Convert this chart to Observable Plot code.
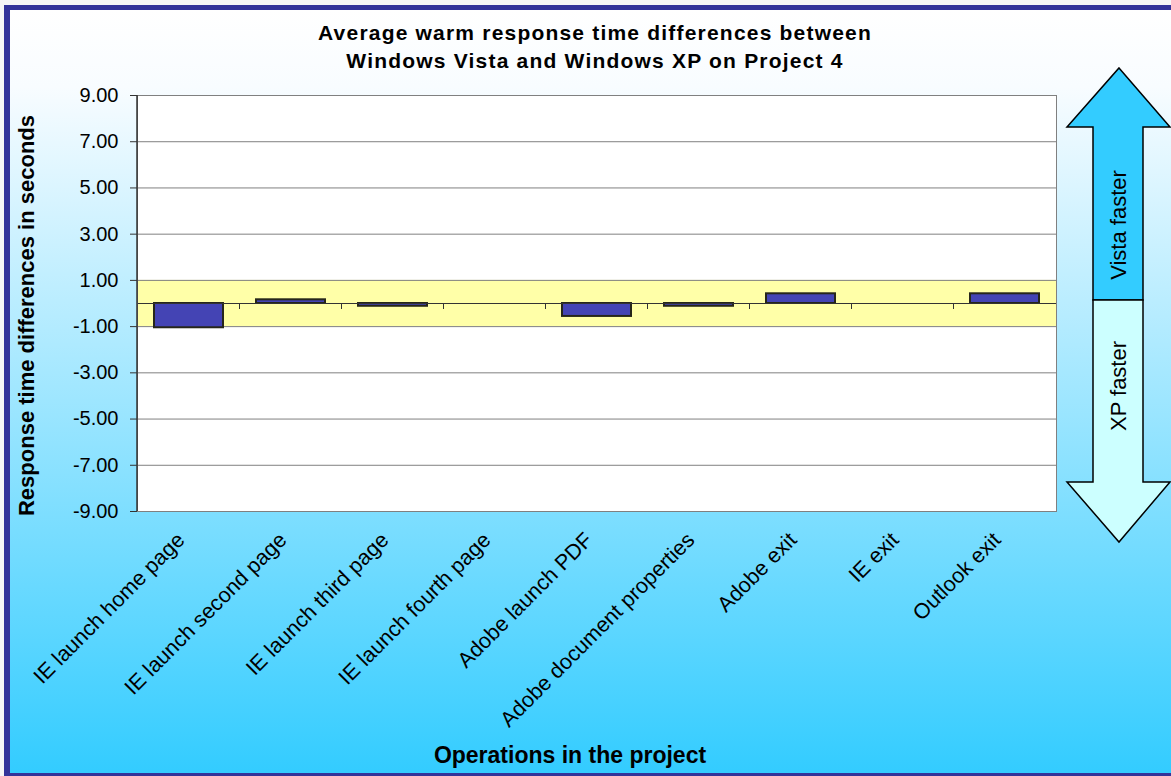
<!DOCTYPE html>
<html><head><meta charset="utf-8">
<script src="https://cdn.jsdelivr.net/npm/d3@7"></script>
<script src="https://cdn.jsdelivr.net/npm/@observablehq/plot@0.6"></script>
<style>
html,body{margin:0;padding:0;width:1171px;height:776px;overflow:hidden;background:#f6f6f6;}
#frame{position:absolute;left:4px;top:5px;width:1200px;height:763px;border-left:6px solid #333399;border-top:5px solid #333399;border-bottom:6px solid #333399;background:linear-gradient(to bottom,#ffffff 0%,#f8fcff 10%,#33ccff 100%);}
#chart{position:absolute;left:0;top:0;}
</style></head><body>
<div id="frame"></div>
<div id="chart"></div>
<script>
const categories = ["IE launch home page","IE launch second page","IE launch third page","IE launch fourth page","Adobe launch PDF","Adobe document properties","Adobe exit","IE exit","Outlook exit"];
const values = [-1.05, 0.16, -0.12, 0, -0.56, -0.12, 0.42, 0, 0.42];
const yTicks = [9, 7, 5, 3, 1, -1, -3, -5, -7, -9];
const band = [{lo: -1, hi: 1}];
const title = "Average warm response time differences between\nWindows Vista and Windows XP on Project 4";
const yLabel = "Response time differences in seconds";
const xLabel = "Operations in the project";
const arrowLabels = ["Vista faster", "XP faster"];

const data = categories.map((c, i) => ({category: c, value: values[i]}));
const font = "'Liberation Sans', Arial, sans-serif";

const plot = Plot.plot({
  width: 1171, height: 776,
  marginLeft: 137, marginRight: 115, marginTop: 95, marginBottom: 265,
  style: {background: "transparent", fontFamily: font, color: "#000", overflow: "visible"},
  x: {domain: categories, paddingInner: 0.324, paddingOuter: 0.162, label: null},
  y: {domain: [-9, 9], label: null},
  marks: [
    Plot.frame({fill: "white", stroke: "none"}),
    Plot.rect(band, {y1: "lo", y2: "hi", fill: "#ffffa8"}),
    Plot.gridY(yTicks, {stroke: "#808080", strokeOpacity: 1}),
    Plot.barY(data, {x: "category", y: "value", fill: "#4444b4", stroke: "#26261a", strokeWidth: 2}),
    Plot.ruleY([0], {stroke: "#333"}),
    Plot.frame({stroke: "#808080"}),
    Plot.axisY(yTicks, {tickSize: 7, tickPadding: 12, tickFormat: d => d.toFixed(2), fontSize: 20, stroke: "#333", label: null}),
    Plot.axisX({tickSize: 0, tickPadding: 25, tickRotate: -45, fontSize: 21.5, dx: -8, label: null}),
    Plot.text([title], {frameAnchor: "top", dx: -2, dy: -76, fontSize: 21, fontWeight: "bold", lineHeight: 1.35, className: "ttl"}),
    Plot.text([yLabel], {frameAnchor: "left", textAnchor: "middle", rotate: -90, dx: -111, dy: 12, fontSize: 22, fontWeight: "bold"}),
    Plot.text([xLabel], {frameAnchor: "bottom", dx: -27, dy: 251, fontSize: 23, fontWeight: "bold"})
  ]
});
document.getElementById("chart").appendChild(plot);

const svg = d3.select(plot);
svg.selectAll(".ttl text").attr("letter-spacing", "1.2px");
const sx = plot.scale("x"), sy = plot.scale("y");
const y0 = sy.apply(0);
const gap = (sx.step - sx.bandwidth) / 2;
// category boundary ticks on the zero line
svg.append("g").selectAll("line").data(categories.slice(0, -1)).join("line")
  .attr("x1", c => sx.apply(c) + sx.bandwidth + gap)
  .attr("x2", c => sx.apply(c) + sx.bandwidth + gap)
  .attr("y1", y0).attr("y2", y0 + 6)
  .attr("stroke", "#333");
// left axis line
svg.append("line")
  .attr("x1", sx.range[0]).attr("x2", sx.range[0])
  .attr("y1", sy.apply(9)).attr("y2", sy.apply(-9))
  .attr("stroke", "#333").attr("stroke-width", 1.5);

// direction arrow (decoration)
const ga = svg.append("g").attr("stroke", "#000").attr("stroke-width", 1.5).attr("stroke-linejoin", "miter");
ga.append("path").attr("fill", "#33ccff")
  .attr("d", "M1119,68 L1170,127 L1143,127 L1143,300 L1093,300 L1093,127 L1067,127 Z");
ga.append("path").attr("fill", "#ccffff")
  .attr("d", "M1093,300 L1143,300 L1143,482 L1170,482 L1119,542 L1067,482 L1093,482 Z");
const at = svg.append("g").attr("font-family", font).attr("font-size", 22).attr("text-anchor", "middle");
at.append("text").attr("transform", "translate(1118,225) rotate(-90)").attr("dy", "0.35em").text(arrowLabels[0]);
at.append("text").attr("transform", "translate(1118,386) rotate(-90)").attr("dy", "0.35em").text(arrowLabels[1]);
</script>
</body></html>
